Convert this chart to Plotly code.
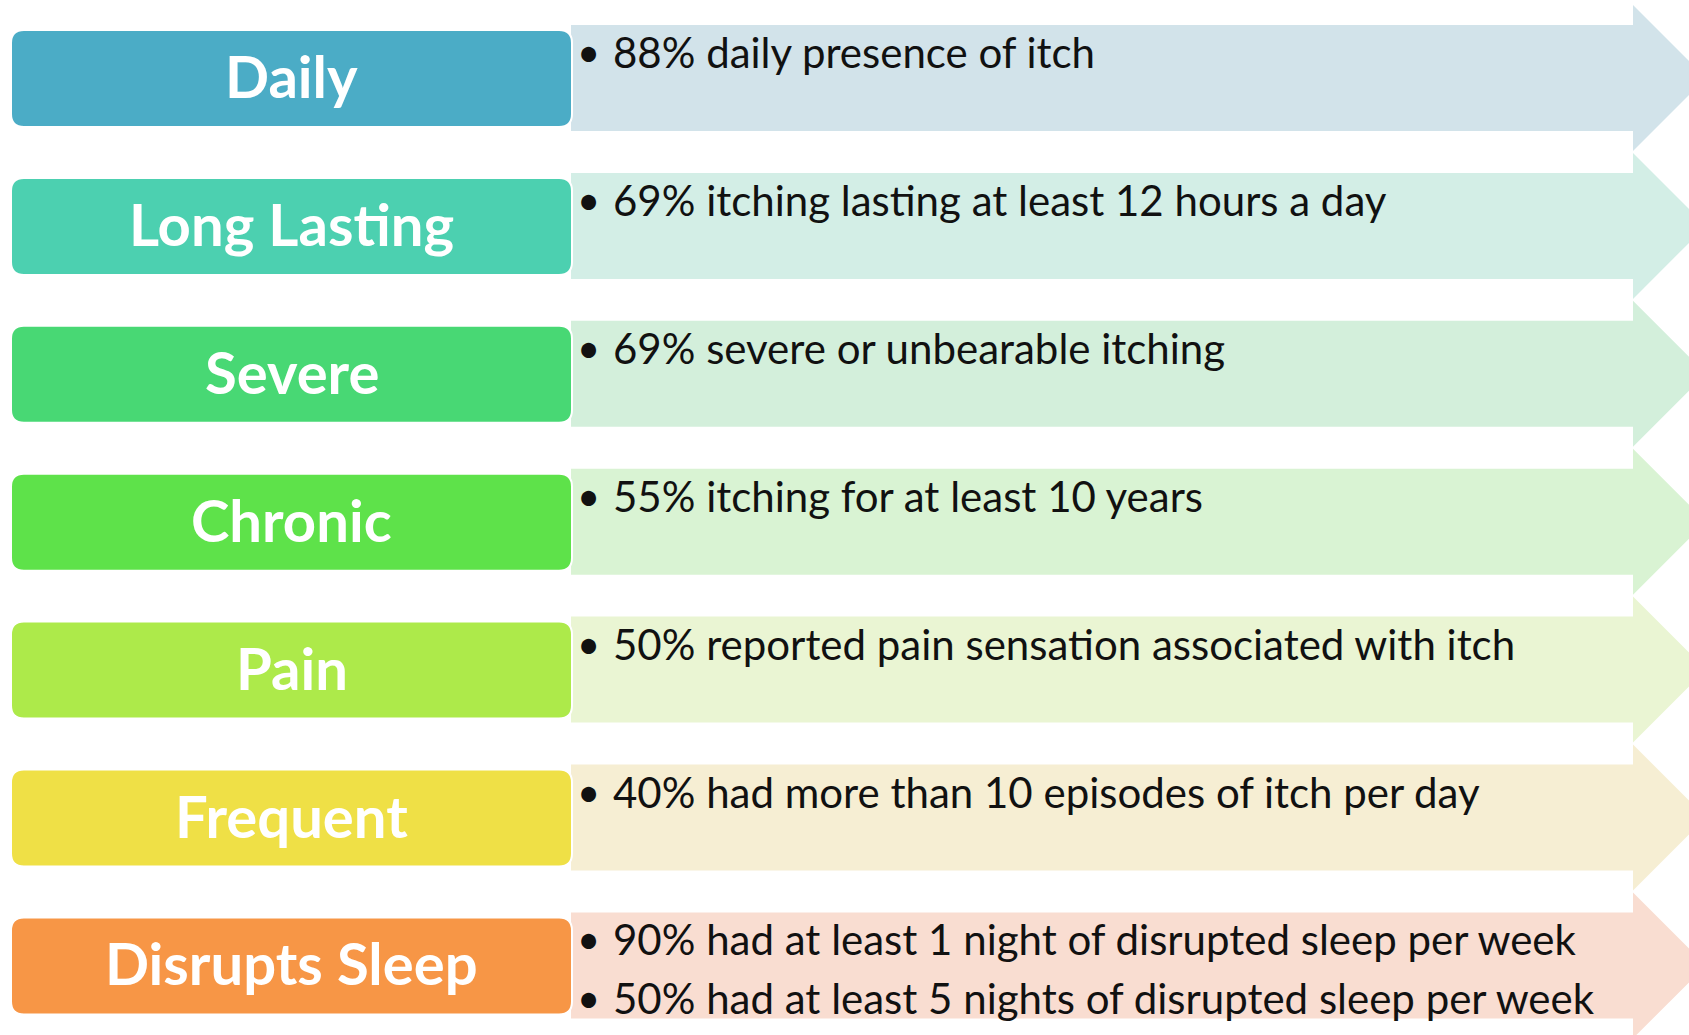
import plotly.graph_objects as go

W, H = 1689, 1035

# ── Data ──────────────────────────────────────────────────────────────────────
LABELS = ["Daily", "Long Lasting", "Severe", "Chronic", "Pain", "Frequent", "Disrupts Sleep"]

DETAILS = [
    ["88% daily presence of itch"],
    ["69% itching lasting at least 12 hours a day"],
    ["69% severe or unbearable itching"],
    ["55% itching for at least 10 years"],
    ["50% reported pain sensation associated with itch"],
    ["40% had more than 10 episodes of itch per day"],
    ["90% had at least 1 night of disrupted sleep per week",
     "50% had at least 5 nights of disrupted sleep per week"],
]

BOX_COLORS = ["#4BACC6", "#4CD0B0", "#48D874", "#5EE24A", "#ADEA4A", "#EFE046", "#F79646"]
ARROW_COLORS = ["#D2E3EA", "#D3EEE6", "#D3EFDB", "#D9F3D3", "#EAF5D3", "#F6EED3", "#F9DDD1"]

# ── Layout geometry (pixels) ──────────────────────────────────────────────────
TOP0, PITCH, BOX_H = 30, 147.9, 97
BOX_X0, BOX_X1, R = 11, 572, 13
HEAD_X, HEAD_EXT = 1633, 20
LINE_GAP = 59


def rounded_rect(x0, y0, x1, y1, r):
    return (f"M {x0+r},{y0} L {x1-r},{y0} Q {x1},{y0} {x1},{y0+r} "
            f"L {x1},{y1-r} Q {x1},{y1} {x1-r},{y1} L {x0+r},{y1} "
            f"Q {x0},{y1} {x0},{y1-r} L {x0},{y0+r} Q {x0},{y0} {x0+r},{y0} Z")


fig = go.Figure()
shapes, annotations = [], []

for i, label in enumerate(LABELS):
    top = TOP0 + i * PITCH
    bot = top + BOX_H
    b_top, b_bot = top - 5, bot + 4
    mid = (b_top + b_bot) / 2
    h_top, h_bot = b_top - HEAD_EXT, b_bot + HEAD_EXT
    tip = HEAD_X + (h_bot - h_top) / 2

    # light arrow behind the detail text
    shapes.append(dict(
        type="path", xref="x", yref="y", layer="below",
        path=(f"M {BOX_X1 - 1},{b_top} L {HEAD_X},{b_top} L {HEAD_X},{h_top} "
              f"L {tip},{mid} L {HEAD_X},{h_bot} L {HEAD_X},{b_bot} L {BOX_X1 - 1},{b_bot} Z"),
        fillcolor=ARROW_COLORS[i], line=dict(width=0),
    ))
    # coloured label box
    shapes.append(dict(
        type="path", xref="x", yref="y", layer="above",
        path=rounded_rect(BOX_X0, top, BOX_X1, bot, R),
        fillcolor=BOX_COLORS[i], line=dict(color="white", width=2),
    ))
    annotations.append(dict(
        x=(BOX_X0 + BOX_X1) / 2, y=(top + bot) / 2 - 3, xref="x", yref="y",
        text=f"<b>{label}</b>", showarrow=False, xanchor="center", yanchor="middle",
        font=dict(family="Lato", size=58, color="white"),
    ))
    for j, line in enumerate(DETAILS[i]):
        ly = b_top + 27 + j * LINE_GAP
        annotations.append(dict(
            x=588, y=ly, xref="x", yref="y", text="•", showarrow=False,
            xanchor="center", yanchor="middle",
            font=dict(family="Lato", size=40, color="#111111"),
        ))
        annotations.append(dict(
            x=611, y=ly, xref="x", yref="y", text=line, showarrow=False,
            xanchor="left", yanchor="middle",
            font=dict(family="Lato", size=42, color="#111111"),
        ))

fig.update_layout(
    width=W, height=H,
    margin=dict(l=0, r=0, t=0, b=0),
    paper_bgcolor="white", plot_bgcolor="white",
    xaxis=dict(range=[0, W], visible=False, fixedrange=True),
    yaxis=dict(range=[H, 0], visible=False, fixedrange=True),
    shapes=shapes, annotations=annotations,
    showlegend=False,
)

fig.write_html("out.html", config=dict(displayModeBar=False),
               post_script="document.body.style.margin='0';document.body.style.overflow='hidden';")
